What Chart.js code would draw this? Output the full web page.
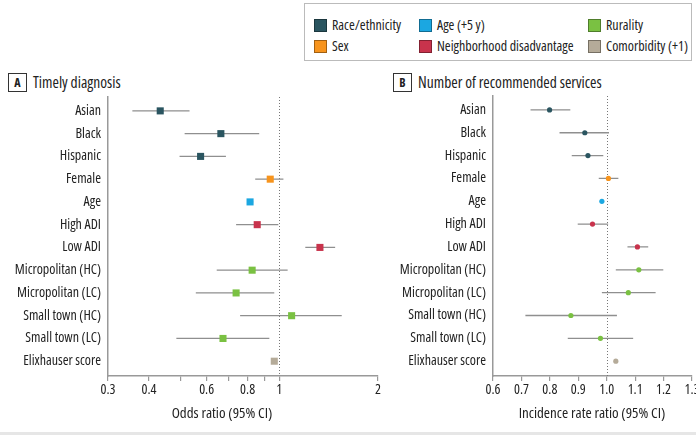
<!DOCTYPE html>
<html>
<head>
<meta charset="utf-8">
<script src="https://cdn.jsdelivr.net/npm/chart.js@4.4.0/dist/chart.umd.min.js"></script>
<style>
  body { margin: 0; width: 696px; height: 435px; overflow: hidden; background: #fff; position: relative;
         font-family: "Open Sans", sans-serif; font-stretch: condensed; font-weight: 500; color: #222; }
  canvas { position: absolute; }
  #legend { position: absolute; left: 304px; top: 3px; width: 386px; height: 56px; border: 1px solid #bbb; }
  .sw { position: absolute; width: 11px; height: 11px; border: 1px solid rgba(0,0,0,0.35); }
  .lt { position: absolute; font-size: 14px; line-height: 14px; color: #222; white-space: nowrap; }
  .badge { position: absolute; top: 73px; width: 17px; height: 17px; border: 1px solid #333; font-weight: bold;
           font-size: 12px; line-height: 17px; text-align: center; }
  .ptitle { position: absolute; top: 73px; font-size: 15.5px; line-height: 18px; }
  .xtitle { position: absolute; top: 403px; font-size: 15px; line-height: 18px; transform: translateX(-50%); white-space: nowrap; }
  #foot { position: absolute; left: 0; top: 432px; width: 696px; height: 3px; background: #e6e6e6; }
</style>
</head>
<body>
<div id="legend"></div>
<div class="badge" style="left:8px">A</div>
<div class="ptitle" style="left:33px">Timely diagnosis</div>
<div class="badge" style="left:393px">B</div>
<div class="ptitle" style="left:418px">Number of recommended services</div>
<canvas id="chartA" width="395" height="314" style="left:0px;top:92px"></canvas>
<canvas id="chartB" width="320" height="314" style="left:395px;top:92px"></canvas>
<div class="xtitle" style="left:222px">Odds ratio (95% CI)</div>
<div class="xtitle" style="left:592px">Incidence rate ratio (95% CI)</div>
<div id="foot"></div>
<script>
// rows (top to bottom) and their group
const rowLabels = ["Asian", "Black", "Hispanic", "Female", "Age", "High ADI", "Low ADI",
  "Micropolitan (HC)", "Micropolitan (LC)", "Small town (HC)", "Small town (LC)", "Elixhauser score"];
const rowGroups = [0, 0, 0, 1, 2, 3, 3, 4, 4, 4, 4, 5];

const groupNames = ["Race/ethnicity", "Sex", "Age (+5 y)", "Neighborhood disadvantage", "Rurality", "Comorbidity (+1)"];
const groupColors = ["#2a5560", "#f7941d", "#1ba7e1", "#c8334c", "#7ac142", "#b5ab99"];

// A: timely diagnosis, odds ratios
const orEst  = [0.433, 0.663, 0.575, 0.938, 0.814, 0.856, 1.33, 0.826, 0.738, 1.09, 0.673, 0.965];
const orLow  = [0.356, 0.514, 0.496, 0.844, 0.797, 0.738, 1.20, 0.644, 0.556, 0.759, 0.485, 0.945];
const orHigh = [0.532, 0.868, 0.687, 1.029, 0.832, 0.993, 1.48, 1.06, 0.965, 1.55, 0.932, 0.986];
const orTicks = [0.3, 0.4, 0.5, 0.6, 0.7, 0.8, 0.9, 1, 2];
const orTickLabels = ["0.3", "0.4", "", "0.6", "", "0.8", "", "1", "2"];

// B: number of recommended services, incidence rate ratios
const irrEst  = [0.799, 0.923, 0.934, 1.006, 0.983, 0.950, 1.108, 1.113, 1.076, 0.874, 0.978, 1.032];
const irrLow  = [0.732, 0.834, 0.877, 0.972, 0.978, 0.898, 1.073, 1.032, 0.983, 0.714, 0.863, 1.026];
const irrHigh = [0.872, 1.008, 0.988, 1.041, 0.988, 1.005, 1.146, 1.199, 1.172, 1.036, 1.093, 1.038];
const irrTicks = [0.6, 0.7, 0.8, 0.9, 1.0, 1.1, 1.2, 1.3];
const irrTickLabels = ["0.6", "0.7", "0.8", "0.9", "1.0", "1.1", "1.2", "1.3"];

// "condensed" goes in the weight slot so the canvas font string picks the narrow width
const FONT = { family: "'Open Sans', sans-serif", size: 14, weight: "500 condensed" };

// legend (html)
const legend = document.getElementById("legend");
const legPos = [[9, 15], [9, 36], [114, 15], [114, 36], [283, 15], [283, 36]];
groupNames.forEach((name, i) => {
  const sw = document.createElement("div");
  sw.className = "sw";
  sw.style.left = legPos[i][0] + "px";
  sw.style.top = legPos[i][1] + "px";
  sw.style.background = groupColors[i];
  legend.appendChild(sw);
  const t = document.createElement("div");
  t.className = "lt";
  t.style.left = (legPos[i][0] + 18) + "px";
  t.style.top = (legPos[i][1] - 1) + "px";
  t.textContent = name;
  legend.appendChild(t);
});

// dotted line at no effect (1)
const refLine = {
  id: "refLine",
  beforeDatasetsDraw(chart) {
    const { ctx, chartArea } = chart;
    const x = Math.round(chart.scales.x.getPixelForValue(1)) + 0.5;
    ctx.save();
    ctx.strokeStyle = "#777";
    ctx.lineWidth = 1;
    ctx.setLineDash([1, 2]);
    ctx.beginPath();
    ctx.moveTo(x, chartArea.top);
    ctx.lineTo(x, chartArea.bottom);
    ctx.stroke();
    ctx.restore();
  }
};

function makeForest(id, est, low, high, xType, xMin, xMax, ticks, tickLabels, yWidth, padRight, pStyle, pRadius) {
  // CI segments, separated by gaps
  let ci = [];
  for (let i = 0; i < rowLabels.length; i++) {
    ci.push({ x: low[i], y: i });
    ci.push({ x: high[i], y: i });
    ci.push({ x: null, y: null });
  }
  let pts = est.map((v, i) => ({ x: v, y: i }));
  let colors = rowGroups.map(g => groupColors[g]);

  return new Chart(document.getElementById(id).getContext("2d"), {
    type: "scatter",
    data: {
      datasets: [
        {
          data: pts,
          pointStyle: pStyle,
          pointRadius: pRadius,
          pointBackgroundColor: colors,
          pointBorderWidth: 0,
          showLine: false,
        },
        {
          data: ci,
          showLine: true,
          spanGaps: false,
          borderColor: "#8f8f8f",
          borderWidth: 1.3,
          pointRadius: 0,
        },
      ],
    },
    options: {
      responsive: false,
      animation: false,
      layout: { padding: { top: 3, right: padRight, left: 0, bottom: 0 } },
      plugins: { legend: { display: false }, tooltip: { enabled: false } },
      scales: {
        x: {
          type: xType,
          min: xMin,
          max: xMax,
          afterBuildTicks: (s) => { s.ticks = ticks.map(v => ({ value: v })); },
          afterFit: (s) => { s.height = 30; },
          ticks: {
            autoSkip: false,
            maxRotation: 0,
            padding: 1,
            color: "#222",
            font: FONT,
            callback: (v) => tickLabels[ticks.findIndex(t => Math.abs(t - v) < 1e-9)],
          },
          grid: { drawOnChartArea: false, drawTicks: true, tickLength: 5, color: "#999", lineWidth: 1.2 },
          border: { display: true, color: "#999", width: 1.5 },
        },
        y: {
          type: "linear",
          reverse: true,
          min: -0.61,
          max: 11.65,
          afterBuildTicks: (s) => { s.ticks = rowLabels.map((_, i) => ({ value: i })); },
          afterFit: (s) => { s.width = yWidth; s.paddingTop = 0; s.paddingBottom = 0; },
          ticks: {
            padding: 7,
            color: "#222",
            font: FONT,
            callback: (v) => rowLabels[v],
          },
          grid: { display: false, drawTicks: false },
          border: { display: true, color: "#999", width: 1.5 },
        },
      },
    },
    plugins: [refLine],
  });
}

makeForest("chartA", orEst, orLow, orHigh, "logarithmic", 0.3, 2, orTicks, orTickLabels, 108, 17, "rect", 5);
makeForest("chartB", irrEst, irrLow, irrHigh, "linear", 0.6, 1.3, irrTicks, irrTickLabels, 98, 23, "circle", 2.6);
</script>
</body>
</html>
